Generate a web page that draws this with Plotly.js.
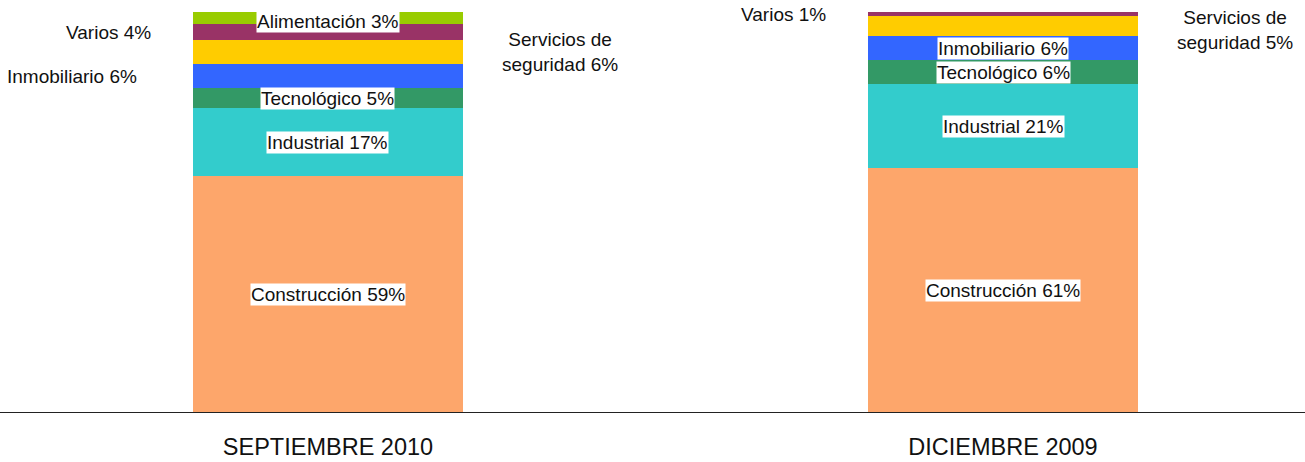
<!DOCTYPE html>
<html><head><meta charset="utf-8">
<script src="https://cdn.plot.ly/plotly-3.0.1.min.js"></script>
<style>html,body{margin:0;padding:0;background:#fff}#chart{width:1305px;height:462px}</style>
</head><body><div id="chart"></div>
<script>
// ---- data ----
const periods = ['SEPTIEMBRE 2010', 'DICIEMBRE 2009'];
const sectors = ['Construcción', 'Industrial', 'Tecnológico', 'Inmobiliario', 'Servicios de seguridad', 'Varios', 'Alimentación'];
const construccion = [59, 61];
const industrial = [17, 21];
const tecnologico = [5, 6];
const inmobiliario = [6, 6];
const servicios = [6, 5];
const varios = [4, 1];
const alimentacion = [3, 0];

// ---- style ----
const seriesValues = [construccion, industrial, tecnologico, inmobiliario, servicios, varios, alimentacion];
const colors = ['#FDA66B', '#33CCCC', '#339966', '#3366FF', '#FFCC00', '#993366', '#99CC00'];
const placement = [
  ['in', 'in', 'in', 'left', 'right', 'left', 'in'],
  ['in', 'in', 'in', 'in', 'right', 'left', 'in']
];
const leftOffset = {'Inmobiliario': -189, 'Varios': -175};
const rightOffset = 232;
const FONT = 'Liberation Sans, Arial, sans-serif';

const traces = sectors.map((s, i) => ({
  type: 'bar', name: s, x: periods, y: seriesValues[i],
  marker: {color: colors[i], line: {width: 0}},
  width: 0.4, hoverinfo: 'name+y'
}));

const annotations = [];
periods.forEach((p, j) => {
  let cum = 0;
  sectors.forEach((s, i) => {
    const v = seriesValues[i][j];
    const mid = cum + v / 2;
    cum += v;
    if (!v) return;
    const pl = placement[j][i];
    const base = {x: p, y: mid, xref: 'x', yref: 'y', showarrow: false,
      font: {family: FONT, size: 19, color: '#111'}};
    if (pl === 'in') {
      annotations.push(Object.assign(base, {text: s + ' ' + v + '%', bgcolor: '#ffffff', borderpad: 0,
        yshift: (i === sectors.length - 1 ? -3 : 0)}));
    } else if (pl === 'left') {
      annotations.push(Object.assign(base, {text: s + ' ' + v + '%', xanchor: 'right', xshift: leftOffset[s]}));
    } else {
      const parts = s.split(' ');
      const txt = parts.slice(0, 2).join(' ') + '<br>' + parts.slice(2).join(' ') + ' ' + v + '%';
      annotations.push(Object.assign(base, {text: txt, xanchor: 'center', xshift: rightOffset, yshift: (j === 1 ? -4 : 0)}));
    }
  });
});

const layout = {
  width: 1305, height: 462,
  margin: {l: 0, r: 0, t: 12, b: 50},
  paper_bgcolor: '#fff', plot_bgcolor: '#fff',
  barmode: 'stack', showlegend: false,
  font: {family: FONT, color: '#111'},
  xaxis: {type: 'category', range: [-0.4859, 1.4474], showgrid: false, zeroline: false,
    showline: true, linecolor: '#222', linewidth: 1, ticks: '', ticklabelstandoff: 14,
    tickfont: {family: FONT, size: 23.5, color: '#111'}},
  yaxis: {range: [0, 100], visible: false, showgrid: false, zeroline: false},
  annotations: annotations
};
Plotly.newPlot('chart', traces, layout, {displayModeBar: false, staticPlot: true});
</script>
</body></html>
